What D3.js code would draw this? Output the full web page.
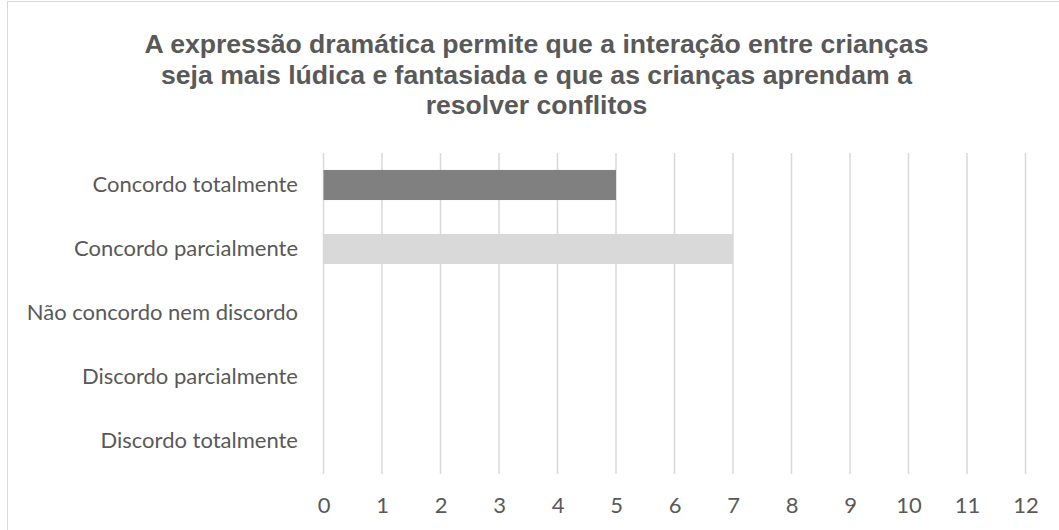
<!DOCTYPE html>
<html>
<head>
<meta charset="utf-8">
<script src="https://cdn.jsdelivr.net/npm/d3@7"></script>
<style>
  body { margin: 0; background: #fff; }
  svg { display: block; }
</style>
</head>
<body>
<svg id="chart" width="1059" height="530"></svg>
<script>
// dados
var categorias = ["Concordo totalmente", "Concordo parcialmente", "Não concordo nem discordo", "Discordo parcialmente", "Discordo totalmente"];
var valores = [5, 7, 0, 0, 0];
var cores = ["#808080", "#d9d9d9", "#a5a5a5", "#bfbfbf", "#7f7f7f"];
var ticks = [0, 1, 2, 3, 4, 5, 6, 7, 8, 9, 10, 11, 12];
var titulo = ["A expressão dramática permite que a interação entre crianças",
              "seja mais lúdica e fantasiada e que as crianças aprendam a",
              "resolver conflitos"];

var width = 1059, height = 530;
var svg = d3.select("#chart");

// moldura
svg.append("rect")
  .attr("x", 7.5).attr("y", 1.5)
  .attr("width", width + 10).attr("height", height + 10)
  .attr("fill", "#fff").attr("stroke", "#d9d9d9").attr("stroke-width", 1);

var x = d3.scaleLinear().domain([0, 12]).range([323.5, 1025.5]);
var y = d3.scaleBand().domain(categorias).range([153, 473])
  .paddingInner(0.53).paddingOuter(0.265);

// titulo
svg.append("text")
  .attr("text-anchor", "middle")
  .attr("font-family", "Liberation Sans, Arial, sans-serif")
  .attr("font-weight", "bold")
  .attr("font-size", "26.6px")
  .attr("fill", "#595959")
  .selectAll("tspan")
  .data(titulo)
  .enter().append("tspan")
  .attr("x", 536.5)
  .attr("y", function (d, i) { return 53 + i * 30.5; })
  .text(function (d) { return d; });

// grelha
svg.selectAll("line.grid")
  .data(ticks)
  .enter().append("line")
  .attr("class", "grid")
  .attr("x1", function (d) { return x(d); })
  .attr("x2", function (d) { return x(d); })
  .attr("y1", 153).attr("y2", 474)
  .attr("stroke", "#d9d9d9").attr("stroke-width", 1.5);

// barras
svg.selectAll("rect.bar")
  .data(valores)
  .enter().append("rect")
  .attr("class", "bar")
  .attr("x", x(0))
  .attr("y", function (d, i) { return y(categorias[i]); })
  .attr("width", function (d) { return x(d) - x(0); })
  .attr("height", y.bandwidth())
  .attr("fill", function (d, i) { return cores[i]; });

// eixo x
var eixoX = svg.append("g")
  .attr("transform", "translate(0,474)")
  .call(d3.axisBottom(x).tickValues(ticks).tickSize(0).tickPadding(23).tickFormat(d3.format("d")));
eixoX.select(".domain").remove();
eixoX.selectAll("text")
  .attr("font-family", "Lato, Carlito, Calibri, sans-serif")
  .attr("font-size", "22px")
  .attr("fill", "#595959");

// eixo y
var eixoY = svg.append("g")
  .attr("transform", "translate(298,0)")
  .call(d3.axisLeft(y).tickSize(0).tickPadding(0));
eixoY.select(".domain").remove();
eixoY.selectAll("text")
  .attr("font-family", "Lato, Carlito, Calibri, sans-serif")
  .attr("font-size", "22px")
  .attr("fill", "#595959");
</script>
</body>
</html>
